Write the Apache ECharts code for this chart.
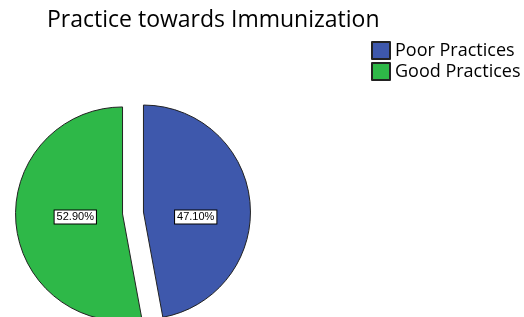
<!DOCTYPE html>
<html>
<head>
<meta charset="utf-8">
<script src="https://cdn.jsdelivr.net/npm/echarts@6/dist/echarts.min.js"></script>
<style>
html,body{margin:0;padding:0;background:#fff;}
#c{width:524px;height:317px;}
</style>
</head>
<body>
<div id="c"></div>
<script>
const titleText = 'Practice towards Immunization';
const categories = ['Poor Practices', 'Good Practices'];
const values = [47.10, 52.90];

const colors = ['#3E58AC', '#2EB848'];
const labelShift = [[-4, 10], [9, -2]];

const data = categories.map((name, i) => ({
  name: name,
  value: values[i],
  selected: true,
  itemStyle: { color: colors[i] }
}));

const chart = echarts.init(document.getElementById('c'), null, { renderer: 'canvas' });
chart.setOption({
  animation: false,
  backgroundColor: '#ffffff',
  title: {
    text: titleText,
    left: 42,
    top: 4,
    textStyle: { fontFamily: 'Open Sans', fontSize: 23, fontWeight: 'normal', color: '#000' }
  },
  legend: {
    orient: 'vertical',
    left: 371,
    top: 41,
    itemWidth: 18,
    itemHeight: 17,
    itemGap: 2,
    padding: 0,
    icon: 'rect',
    selectedMode: false,
    data: categories,
    textStyle: { fontFamily: 'Open Sans', fontSize: 18, color: '#000' }
  },
  series: [{
    type: 'pie',
    center: [133, 213],
    radius: 107,
    startAngle: 90,
    clockwise: true,
    selectedMode: 'multiple',
    selectedOffset: 10.5,
    avoidLabelOverlap: false,
    itemStyle: { borderColor: '#222', borderWidth: 1 },
    emphasis: { disabled: true },
    label: {
      show: true,
      position: 'inside',
      formatter: p => p.value.toFixed(2) + '%',
      fontFamily: 'Liberation Sans',
      fontSize: 11,
      lineHeight: 11,
      color: '#000',
      backgroundColor: '#fff',
      borderColor: '#000',
      borderWidth: 1,
      padding: [1, 2, 1, 2]
    },
    labelLayout: p => ({ dx: labelShift[p.dataIndex][0], dy: labelShift[p.dataIndex][1] }),
    labelLine: { show: false },
    data: data
  }]
});
</script>
</body>
</html>
